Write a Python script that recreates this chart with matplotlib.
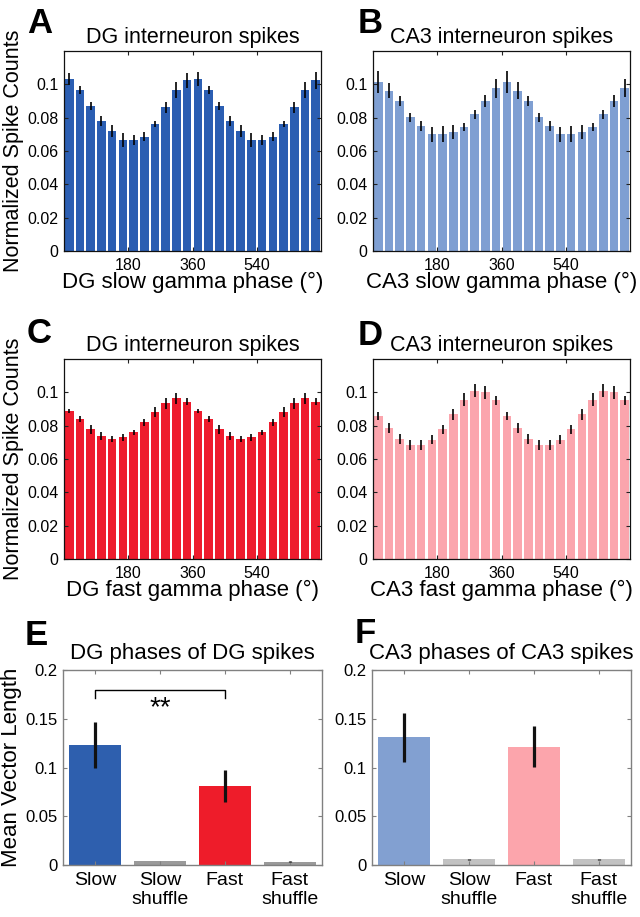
import numpy as np
import matplotlib
matplotlib.use("Agg")
import matplotlib.pyplot as plt

plt.rcParams['font.family'] = ['Liberation Sans', 'DejaVu Sans']

# Phase histograms: 24 bins of 30 deg over two gamma cycles (0-720 deg)
phase_centers = [15, 45, 75, 105, 135, 165, 195, 225, 255, 285, 315, 345,
                 375, 405, 435, 465, 495, 525, 555, 585, 615, 645, 675, 705]
phase_ticks = [180, 360, 540]

dg_slow = [0.1032, 0.0966, 0.0870, 0.0778, 0.0720, 0.0666, 0.0666, 0.0686, 0.0762, 0.0862, 0.0966, 0.1026,
           0.1032, 0.0966, 0.0870, 0.0778, 0.0720, 0.0666, 0.0666, 0.0686, 0.0762, 0.0862, 0.0966, 0.1024]
dg_slow_err = [0.0035, 0.0025, 0.0025, 0.0030, 0.0037, 0.0040, 0.0030, 0.0027, 0.0020, 0.0033, 0.0050, 0.0045,
               0.0040, 0.0025, 0.0025, 0.0030, 0.0037, 0.0040, 0.0030, 0.0027, 0.0020, 0.0033, 0.0050, 0.0050]

ca3_slow = [0.1016, 0.0962, 0.0900, 0.0802, 0.0750, 0.0700, 0.0700, 0.0714, 0.0744, 0.0820, 0.0900, 0.0976,
            0.1016, 0.0962, 0.0900, 0.0802, 0.0750, 0.0700, 0.0700, 0.0714, 0.0744, 0.0820, 0.0900, 0.0976]
ca3_slow_err = [0.0065, 0.0045, 0.0028, 0.0025, 0.0032, 0.0045, 0.0048, 0.0043, 0.0026, 0.0025, 0.0035, 0.0058,
                0.0065, 0.0050, 0.0028, 0.0025, 0.0032, 0.0045, 0.0048, 0.0043, 0.0026, 0.0025, 0.0035, 0.0053]

dg_fast = [0.0890, 0.0840, 0.0780, 0.0740, 0.0720, 0.0730, 0.0760, 0.0820, 0.0880, 0.0936, 0.0966, 0.0944,
           0.0890, 0.0840, 0.0780, 0.0740, 0.0720, 0.0730, 0.0760, 0.0820, 0.0880, 0.0936, 0.0966, 0.0944]
dg_fast_err = [0.0013, 0.0020, 0.0027, 0.0025, 0.0020, 0.0020, 0.0015, 0.0020, 0.0030, 0.0033, 0.0033, 0.0022,
               0.0013, 0.0020, 0.0027, 0.0025, 0.0020, 0.0020, 0.0015, 0.0020, 0.0030, 0.0033, 0.0033, 0.0022]

ca3_fast = [0.0860, 0.0786, 0.0722, 0.0686, 0.0686, 0.0716, 0.0780, 0.0870, 0.0956, 0.1010, 0.1000, 0.0952,
            0.0860, 0.0786, 0.0722, 0.0686, 0.0686, 0.0716, 0.0780, 0.0870, 0.0956, 0.1010, 0.1000, 0.0952]
ca3_fast_err = [0.0025, 0.0028, 0.0030, 0.0030, 0.0030, 0.0026, 0.0027, 0.0033, 0.0038, 0.0040, 0.0040, 0.0025,
                0.0025, 0.0028, 0.0030, 0.0030, 0.0030, 0.0026, 0.0027, 0.0033, 0.0038, 0.0040, 0.0040, 0.0025]

# Mean vector length
mvl_labels = ['Slow', 'Slow\nshuffle', 'Fast', 'Fast\nshuffle']
dg_mvl = [0.123, 0.004, 0.081, 0.0035]
dg_mvl_err = [0.024, 0.0003, 0.016, 0.0003]
ca3_mvl = [0.131, 0.0058, 0.1214, 0.0058]
ca3_mvl_err = [0.025, 0.0008, 0.021, 0.0008]

W, H = 640, 917
fig = plt.figure(figsize=(W / 100, H / 100), dpi=100)


def px_axes(x0, y0, x1, y1):
    return fig.add_axes([x0 / W, 1 - y1 / H, (x1 - x0) / W, (y1 - y0) / H])


def phase_panel(ax, vals, errs, color, title, xlabel, ylabel=None):
    ax.bar(phase_centers, vals, width=24, color=color, edgecolor='none')
    ax.errorbar(phase_centers, vals, yerr=errs, fmt='none', ecolor='black', elinewidth=1.2, capsize=0)
    ax.set_xlim(0, 720)
    ax.set_ylim(0, 0.12)
    ax.set_xticks(phase_ticks)
    ax.set_yticks([0, 0.02, 0.04, 0.06, 0.08, 0.1])
    ax.set_yticklabels(['0', '0.02', '0.04', '0.06', '0.08', '0.1'])
    ax.tick_params(direction='in', top=True, right=True, length=3, width=0.8,
                   labelsize=11.5, pad=4, color='#222222')
    ax.tick_params(axis='x', pad=5)
    for s in ax.spines.values():
        s.set_color('#111111')
        s.set_linewidth(0.9)
    ax.set_title(title, fontsize=15.5, pad=6)
    ax.set_xlabel(xlabel, fontsize=16, labelpad=-1)
    if ylabel:
        ax.set_ylabel(ylabel, fontsize=15.5, labelpad=2)


def mvl_panel(ax, vals, errs, colors, title, ylabel=None):
    x = np.arange(1, len(vals) + 1)
    ax.bar(x, vals, width=0.8, color=colors, edgecolor='none')
    ax.errorbar(x, vals, yerr=errs, fmt='none', ecolor='#111111', elinewidth=2.3, capsize=0)
    ax.set_xlim(0.5, 4.5)
    ax.set_ylim(0, 0.2)
    ax.set_xticks(x)
    ax.set_xticklabels(mvl_labels, fontsize=14, linespacing=1.15)
    ax.set_yticks([0, 0.05, 0.1, 0.15, 0.2])
    ax.set_yticklabels(['0', '0.05', '0.1', '0.15', '0.2'])
    ax.tick_params(direction='in', top=True, right=True, length=3, width=0.8,
                   color='#808080', pad=4)
    ax.tick_params(axis='y', labelsize=12)
    ax.tick_params(axis='x', pad=5)
    for s in ax.spines.values():
        s.set_color('#808080')
        s.set_linewidth(1.0)
    ax.set_title(title, fontsize=16, pad=8)
    if ylabel:
        ax.set_ylabel(ylabel, fontsize=16, labelpad=2)


axA = px_axes(64, 51, 321, 251)
phase_panel(axA, dg_slow, dg_slow_err, '#2b5eb2', 'DG interneuron spikes',
            'DG slow gamma phase (\u00b0)', 'Normalized Spike Counts')
axB = px_axes(373, 51, 630, 251)
phase_panel(axB, ca3_slow, ca3_slow_err, '#7f9fd2', 'CA3 interneuron spikes',
            'CA3 slow gamma phase (\u00b0)')
axC = px_axes(64, 359, 321, 559)
phase_panel(axC, dg_fast, dg_fast_err, '#ee1c2d', 'DG interneuron spikes',
            'DG fast gamma phase (\u00b0)', 'Normalized Spike Counts')
axD = px_axes(373, 359, 630, 559)
phase_panel(axD, ca3_fast, ca3_fast_err, '#fba5ad', 'CA3 interneuron spikes',
            'CA3 fast gamma phase (\u00b0)')

axE = px_axes(63, 670, 322, 865)
mvl_panel(axE, dg_mvl, dg_mvl_err, ['#2e5fae', '#9a9a9a', '#ee1c2a', '#9a9a9a'],
          'DG phases of DG spikes', 'Mean Vector Length')
# significance bracket between Slow and Fast
axE.plot([1, 1, 3, 3], [0.171, 0.18, 0.18, 0.171], color='black', lw=1.0)
axE.text(2, 0.161, '**', ha='center', va='center', fontsize=20)

axF = px_axes(372, 670, 631, 865)
mvl_panel(axF, ca3_mvl, ca3_mvl_err, ['#82a0d1', '#c2c2c2', '#fca5ac', '#c2c2c2'],
          'CA3 phases of CA3 spikes')

# panel letters
for letter, x, y in [('A', 27, 33), ('B', 358, 33), ('C', 27, 343),
                     ('D', 358, 345), ('E', 25, 645), ('F', 355, 643)]:
    fig.text(x / W, 1 - y / H, letter, fontsize=25, fontweight='bold',
             ha='left', va='baseline')

fig.savefig('out.png', dpi=100)
